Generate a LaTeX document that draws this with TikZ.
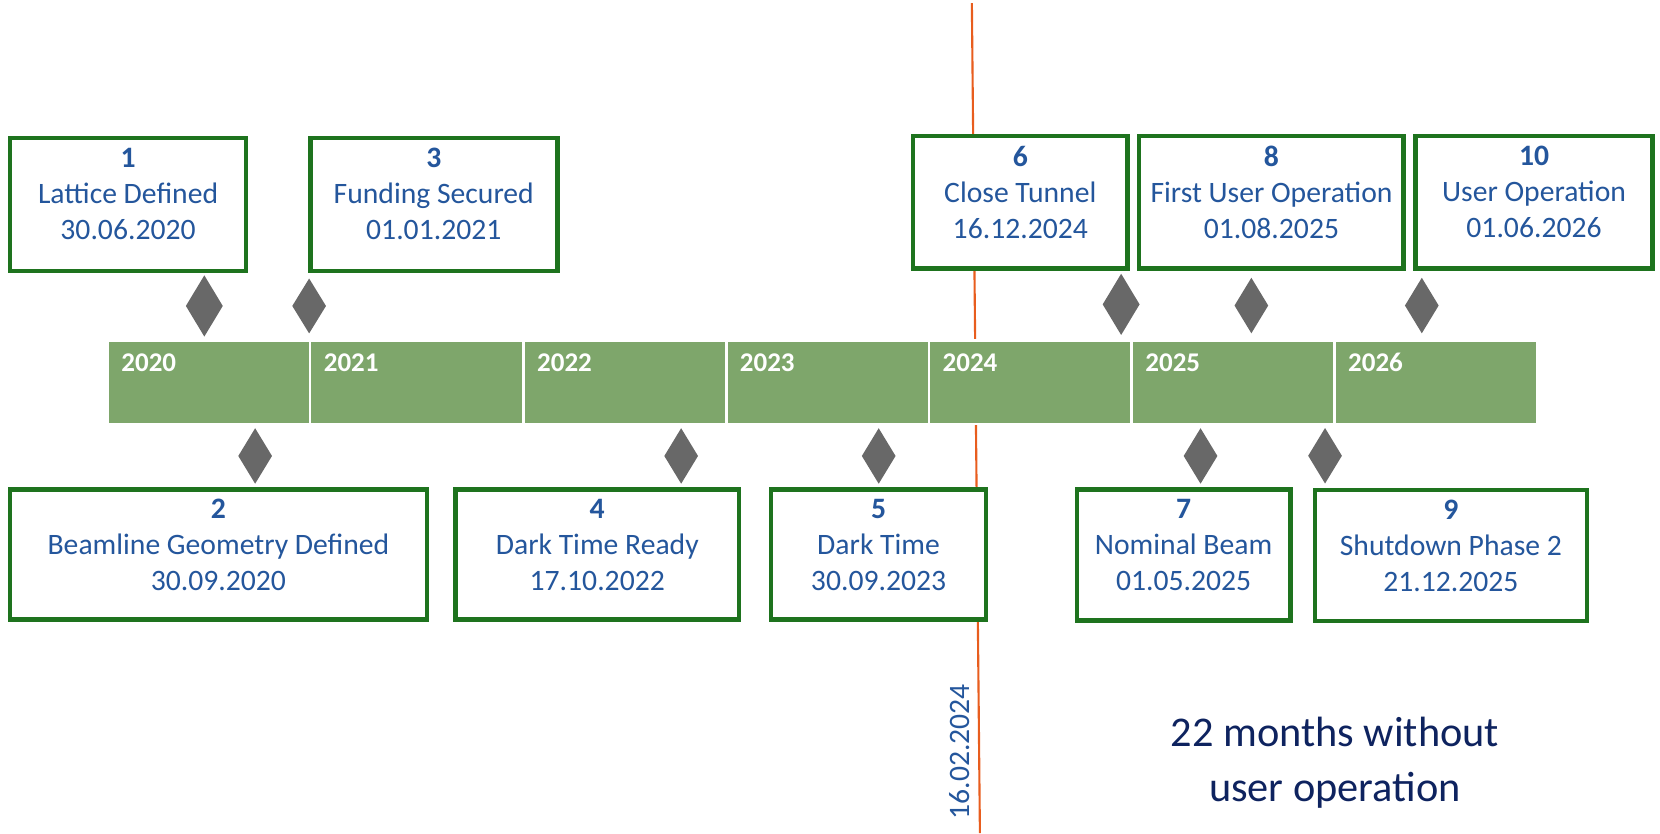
\documentclass[tikz,border=0pt]{standalone}
\usepackage{fontspec}
\setmainfont{Carlito}
\usetikzlibrary{shapes.geometric}
\definecolor{boxgreen}{RGB}{30,115,30}
\definecolor{bargreen}{RGB}{126,166,107}
\definecolor{dgray}{RGB}{104,104,104}
\definecolor{txtblue}{RGB}{36,86,156}
\definecolor{navytxt}{RGB}{14,35,95}
\definecolor{redline}{RGB}{232,93,30}
\newcommand{\tlbox}[6]{%
  \node[msbox, minimum width={#4-#2-4.2}, minimum height={#5-#3-4.2}] (#1) at ({(#2+#4)/2},{(#3+#5)/2}) {};
  \node[mstext] (#1t) at ({(#2+#4)/2},{#3+11.3}) {#6};
}
\newcommand{\tlseg}[4]{%
  \node[segbox, minimum width={#3-#2}] (#1) at ({(#2+#3)/2},361) {};
  \node[yr] (#1y) at ({#2+1.2+11.5},351) {#4};
}
\begin{document}
\begin{tikzpicture}[x=1pt,y=-1pt,
  msbox/.style={draw=boxgreen, line width=4.2pt, fill=white, rectangle, inner sep=0pt},
  mstext/.style={text=txtblue, align=center, inner sep=0pt, font=\fontsize{28}{34}\selectfont, anchor=north},
  segbox/.style={fill=bargreen, draw=white, line width=2.4pt, rectangle, inner sep=0pt, minimum height=79pt},
  yr/.style={text=white, font=\fontsize{25.5}{28}\selectfont\bfseries, anchor=base west, inner sep=0pt},
  dia/.style={diamond, fill=dgray, inner sep=0pt, minimum width=32pt, minimum height=52.6pt},
  bigdia/.style={diamond, fill=dgray, inner sep=0pt, minimum width=35pt, minimum height=58pt},
  navy/.style={text=navytxt, font=\fontsize{40}{50}\selectfont, anchor=base, inner sep=0pt},
]
\useasboundingbox (0,0) rectangle (1568,787);

% red date line
\coordinate (rtop) at (918,3);
\coordinate (rbot) at (925.6,787);
\draw[redline, line width=2pt] (rtop) -- (rbot);

% timeline bar
\tlseg{y2020}{101.8}{293}{2020}
\tlseg{y2021}{293}{494.5}{2021}
\tlseg{y2022}{494.5}{686}{2022}
\tlseg{y2023}{686}{877.5}{2023}
\tlseg{y2024}{877.5}{1069}{2024}
\tlseg{y2025}{1069}{1260.5}{2025}
\tlseg{y2026}{1260.5}{1452.2}{2026}

% diamonds
\node[bigdia] (d1) at (193,289) {};
\node[dia, minimum height=52pt] (d3) at (292,289) {};
\node[bigdia] (d6) at (1059,287.5) {};
\node[dia] (d8) at (1182,288.6) {};
\node[dia] (d10) at (1343,288.6) {};
\node[dia] (d2) at (241,430.7) {};
\node[dia] (d4) at (643.4,430.7) {};
\node[dia] (d5) at (830,430.7) {};
\node[dia] (d7) at (1134,430.7) {};
\node[dia] (d9) at (1251.6,430.5) {};

% milestone boxes
\tlbox{b1}{7.4}{128.5}{234.5}{258}{\textbf{1}\\Lattice Defined\\30.06.2020}
\tlbox{b3}{291}{128.5}{528.5}{258}{\textbf{3}\\Funding Secured\\01.01.2021}
\tlbox{b6}{860.5}{126.6}{1067}{255.7}{\textbf{6}\\Close Tunnel\\16.12.2024}
\tlbox{b8}{1074}{126.6}{1328}{255.7}{\textbf{8}\\First User Operation\\01.08.2025}
\tlbox{b10}{1335}{126.6}{1563}{255.7}{\textbf{10}\\User Operation\\01.06.2026}
\tlbox{b2}{7.2}{460.3}{405.4}{587.2}{\textbf{2}\\Beamline Geometry Defined\\30.09.2020}
\tlbox{b4}{428.3}{460.3}{700}{587.2}{\textbf{4}\\Dark Time Ready\\17.10.2022}
\tlbox{b5}{726}{460.3}{933.7}{587.2}{\textbf{5}\\Dark Time\\30.09.2023}
\tlbox{b7}{1015}{460.3}{1221}{588}{\textbf{7}\\Nominal Beam\\01.05.2025}
\tlbox{b9}{1240}{460.6}{1501}{588.8}{\textbf{9}\\Shutdown Phase 2\\21.12.2025}

% rotated date label
\node[rotate=90, anchor=base, text=txtblue, font=\fontsize{28}{34}\selectfont, inner sep=0pt] (dlabel) at (916,710) {16.02.2024};

% note
\node[navy] (note1) at (1261,705.3) {22 months without};
\node[navy] (note2) at (1261,757) {user operation};
\end{tikzpicture}
\end{document}
